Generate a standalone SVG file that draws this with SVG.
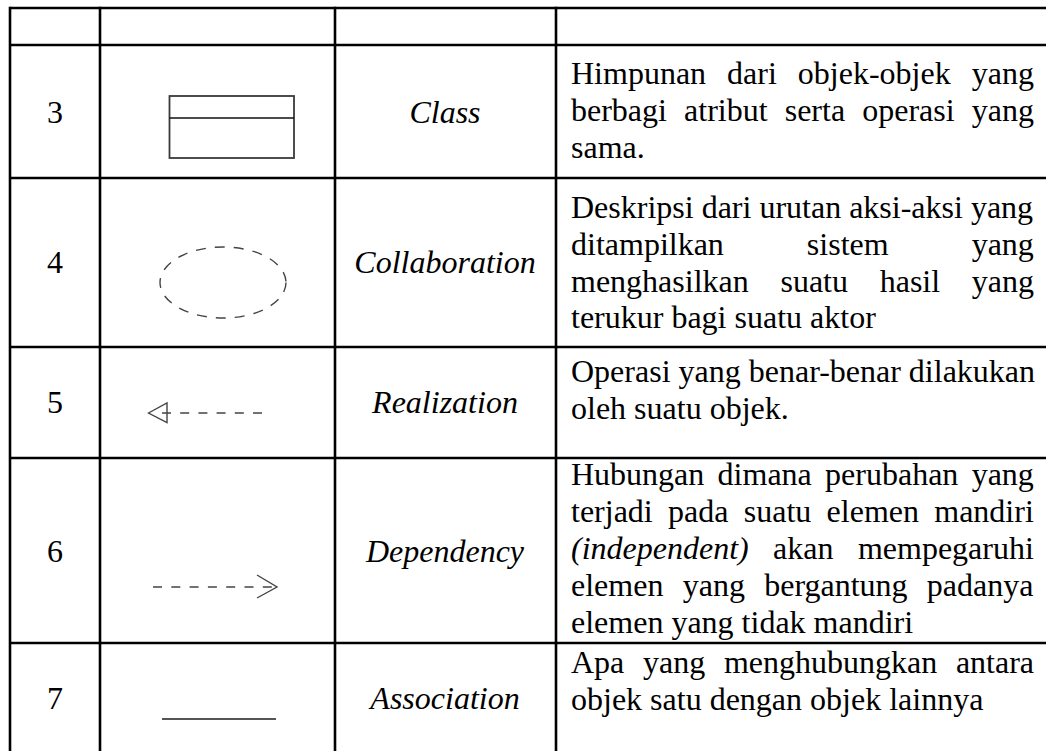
<svg xmlns="http://www.w3.org/2000/svg" width="1046" height="751" viewBox="0 0 1046 751">
<style>
  .grid { stroke: #000; stroke-width: 2.6; fill: none; }
  .num { text-anchor: middle; }
  .lbl { text-anchor: middle; font-style: italic; }
  .it { font-style: italic; }
  .sym { fill: none; stroke: #444; stroke-width: 1.4; }
</style>
<rect x="0" y="0" width="1046" height="751" fill="#fff"/>
<g id="grid">
  <line class="grid" x1="10" y1="8" x2="1046" y2="8"/>
  <line class="grid" x1="10" y1="45" x2="1046" y2="45"/>
  <line class="grid" x1="10" y1="178" x2="1046" y2="178"/>
  <line class="grid" x1="10" y1="347" x2="1046" y2="347"/>
  <line class="grid" x1="10" y1="458" x2="1046" y2="458"/>
  <line class="grid" x1="10" y1="643" x2="1046" y2="643"/>
  <line class="grid" x1="10" y1="6.7" x2="10" y2="751"/>
  <line class="grid" x1="100" y1="6.7" x2="100" y2="751"/>
  <line class="grid" x1="335" y1="6.7" x2="335" y2="751"/>
  <line class="grid" x1="556" y1="6.7" x2="556" y2="751"/>
</g>
<g font-family="'Liberation Serif', 'Times New Roman', serif" font-size="32" fill="#000">
<g id="row3">
  <text class="num" x="55" y="123">3</text>
  <g id="class-symbol">
    <rect x="169.5" y="96" width="124.5" height="62" fill="none" stroke="#3a3a3a" stroke-width="1.8"/>
    <line x1="169.5" y1="118" x2="294" y2="118" stroke="#111" stroke-width="1.4"/>
  </g>
  <text class="lbl" x="445" y="123">Class</text>
  <text x="571" y="84" word-spacing="13">Himpunan dari objek-objek yang</text>
  <text x="571" y="121" word-spacing="9.1">berbagi atribut serta operasi yang</text>
  <text x="571" y="158">sama.</text>
</g>
<g id="row4">
  <text class="num" x="55" y="273">4</text>
  <ellipse class="sym" cx="223" cy="282.5" rx="63" ry="35.5" stroke="#555" stroke-dasharray="10 9"/>
  <text class="lbl" x="445" y="273">Collaboration</text>
  <text x="571" y="218">Deskripsi dari urutan aksi-aksi yang</text>
  <text x="571" y="255" word-spacing="75">ditampilkan sistem yang</text>
  <text x="571" y="292" word-spacing="23.7">menghasilkan suatu hasil yang</text>
  <text x="571" y="328">terukur bagi suatu aktor</text>
</g>
<g id="row5">
  <text class="num" x="55" y="413">5</text>
  <g id="realization-symbol">
    <polygon class="sym" points="148.5,413 167,403 167,422.5"/>
    <line class="sym" x1="162" y1="413" x2="271" y2="413" stroke-dasharray="9 9.2"/>
  </g>
  <text class="lbl" x="445" y="413">Realization</text>
  <text x="571" y="382">Operasi yang benar-benar dilakukan</text>
  <text x="571" y="419">oleh suatu objek.</text>
</g>
<g id="row6">
  <text class="num" x="55" y="562">6</text>
  <g id="dependency-symbol">
    <line class="sym" x1="153" y1="587" x2="276" y2="587" stroke="#222" stroke-dasharray="9 9.3"/>
    <polyline class="sym" points="257,575 277,587 257,598" stroke="#555"/>
  </g>
  <text class="lbl" x="445" y="562">Dependency</text>
  <text x="571" y="485" word-spacing="5.3">Hubungan dimana perubahan yang</text>
  <text x="571" y="522" word-spacing="7.3">terjadi pada suatu elemen mandiri</text>
  <text x="571" y="559" word-spacing="16.4"><tspan class="it">(independent)</tspan> akan mempegaruhi</text>
  <text x="571" y="596" word-spacing="11.3">elemen yang bergantung padanya</text>
  <text x="571" y="633">elemen yang tidak mandiri</text>
</g>
<g id="row7">
  <text class="num" x="55" y="709">7</text>
  <line x1="162" y1="719" x2="276" y2="719" stroke="#555" stroke-width="2"/>
  <text class="lbl" x="445" y="709">Association</text>
  <text x="571" y="673" word-spacing="10.7">Apa yang menghubungkan antara</text>
  <text x="571" y="710">objek satu dengan objek lainnya</text>
</g>
</g>
</svg>
